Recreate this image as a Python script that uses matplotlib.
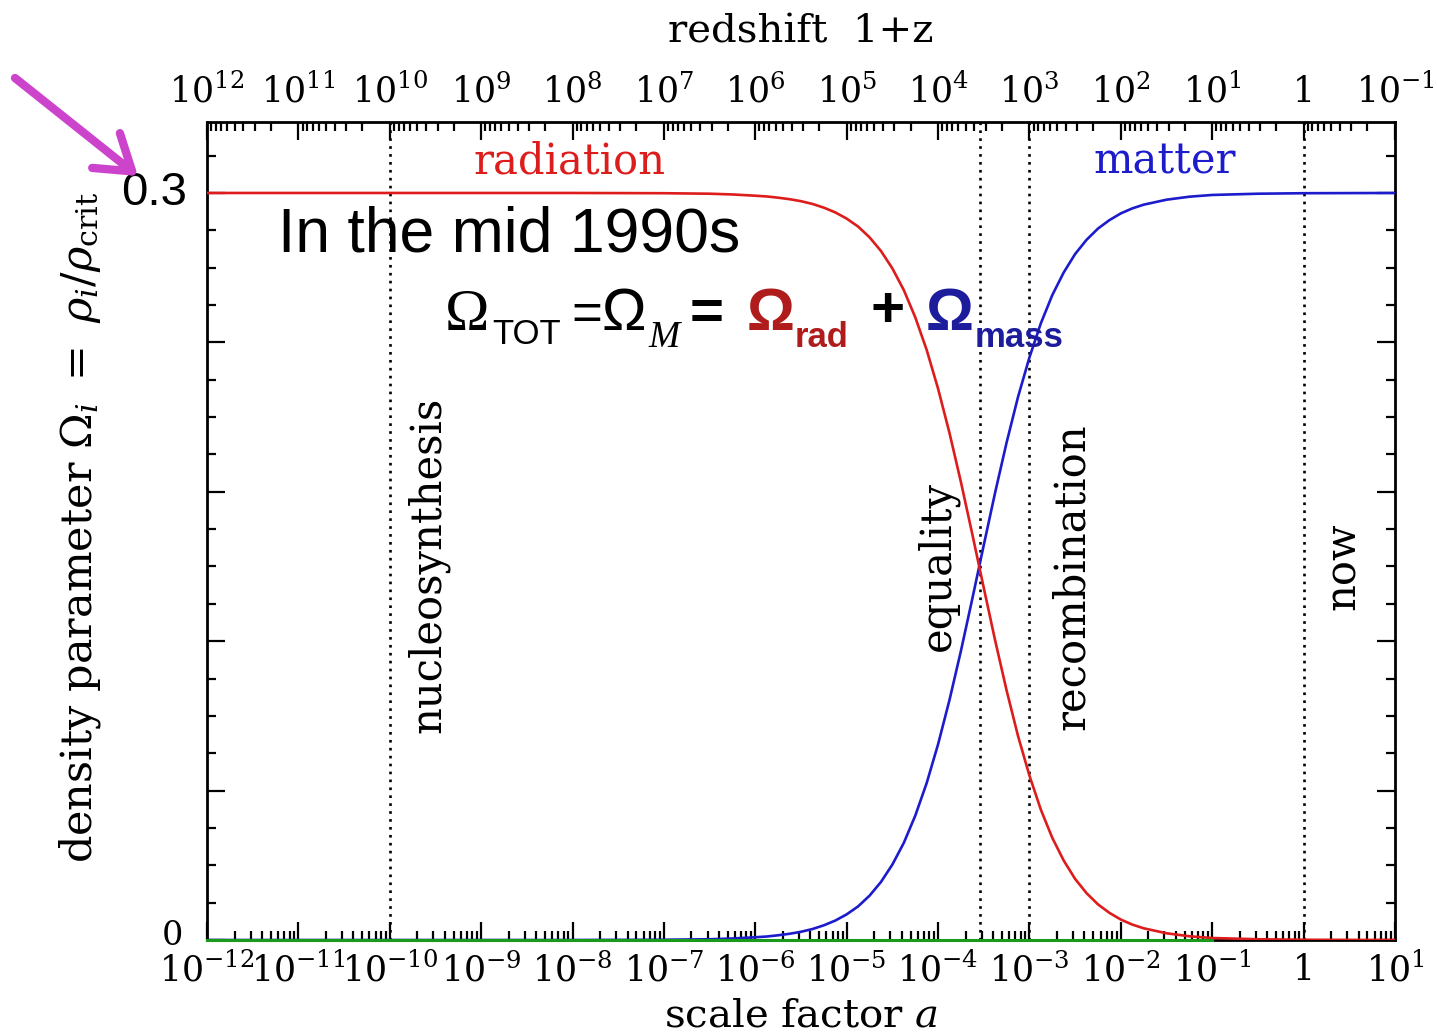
import numpy as np
import matplotlib
matplotlib.use('Agg')
import matplotlib.pyplot as plt
from matplotlib.ticker import FixedLocator, LogLocator, NullFormatter

# values (log10 of scale factor a)
log_a = [-12, -8, -7, -6.5, -6.25, -6, -5.875, -5.75, -5.625, -5.5, -5.375, -5.25,
         -5.125, -5, -4.875, -4.75, -4.625, -4.5, -4.375, -4.25, -4.125, -4,
         -3.875, -3.75, -3.625, -3.5, -3.375, -3.25, -3.125, -3, -2.875, -2.75,
         -2.625, -2.5, -2.375, -2.25, -2.125, -2, -1.875, -1.75, -1.5, -1.25,
         -1, -0.5, 0, 1]
omega_rad = [0.300, 0.300, 0.2999, 0.2997, 0.2994, 0.2989, 0.2986, 0.2981, 0.2975,
             0.2967, 0.2956, 0.2941, 0.2922, 0.2897, 0.2865, 0.2822, 0.2767, 0.2697,
             0.2610, 0.2501, 0.2370, 0.2214, 0.2036, 0.1839, 0.1629, 0.1414, 0.1202,
             0.1002, 0.0819, 0.0660, 0.0523, 0.0410, 0.0319, 0.0245, 0.0188, 0.0143,
             0.0109, 0.0082, 0.0062, 0.0047, 0.0027, 0.0015, 0.0008, 0.0003, 0.0001,
             0.0]
omega_mass = [0.0, 0.0, 0.0001, 0.0003, 0.0006, 0.0011, 0.0014, 0.0019, 0.0025,
              0.0033, 0.0044, 0.0059, 0.0078, 0.0103, 0.0135, 0.0178, 0.0233, 0.0303,
              0.0390, 0.0499, 0.0630, 0.0786, 0.0964, 0.1161, 0.1371, 0.1586, 0.1798,
              0.1998, 0.2181, 0.2340, 0.2477, 0.2590, 0.2681, 0.2755, 0.2812, 0.2857,
              0.2891, 0.2918, 0.2938, 0.2953, 0.2973, 0.2985, 0.2992, 0.2997, 0.2999,
              0.300]
green_a = [1e-12, 0.1]
green_val = [0.0, 0.0]

# epochs marked with dotted lines
epoch_a = [1e-10, 2.86e-4, 1e-3, 1.0]
epoch_names = ['nucleosynthesis', 'equality', 'recombination', 'now']
epoch_label_loga = [-9.58, -4.0, -2.54, 0.43]
epoch_label_y = [0.1506, 0.150, 0.1458, 0.150]

bottom_ticks = [10.0 ** k for k in range(-12, 2)]
bottom_labels = [r'$10^{-12}$', r'$10^{-11}$', r'$10^{-10}$', r'$10^{-9}$', r'$10^{-8}$',
                 r'$10^{-7}$', r'$10^{-6}$', r'$10^{-5}$', r'$10^{-4}$', r'$10^{-3}$',
                 r'$10^{-2}$', r'$10^{-1}$', '1', r'$10^{1}$']
top_labels = [r'$10^{12}$', r'$10^{11}$', r'$10^{10}$', r'$10^{9}$', r'$10^{8}$',
              r'$10^{7}$', r'$10^{6}$', r'$10^{5}$', r'$10^{4}$', r'$10^{3}$',
              r'$10^{2}$', r'$10^{1}$', '1', r'$10^{-1}$']

plt.rcParams['font.family'] = 'DejaVu Serif'
plt.rcParams['mathtext.fontset'] = 'dejavuserif'

W, H = 1437, 1034
fig = plt.figure(figsize=(W / 100, H / 100), dpi=100)
ax = fig.add_axes([207 / W, (H - 940) / H, (1395 - 207) / W, (940 - 122) / H])

a = np.power(10.0, log_a)
red = '#dd1c1c'
blue = '#1c1ccc'
ax.plot(a, omega_mass, color=blue, lw=1.9, zorder=3)
ax.plot(a, omega_rad, color=red, lw=1.9, zorder=4)
ax.plot(green_a, green_val, color='#1a9a1a', lw=2.2, zorder=6, clip_on=False)

for xe in epoch_a:
    ax.axvline(xe, color='black', lw=1.9, ls=(0, (1, 2)), zorder=2)
for name, la, yy in zip(epoch_names, epoch_label_loga, epoch_label_y):
    ax.text(10 ** la, yy, name, rotation=90, ha='center', va='center', fontsize=30)

ax.text(10 ** -8.03, 0.3125, 'radiation', color=red, fontsize=30, ha='center', va='center')
ax.text(10 ** -1.52, 0.3125, 'matter', color=blue, fontsize=30, ha='center', va='center')

ax.set_xscale('log')
ax.set_xlim(1e-12, 10)
ax.set_ylim(0, 0.3285)
ax.xaxis.set_major_locator(FixedLocator(bottom_ticks))
ax.set_xticklabels(bottom_labels)
ax.xaxis.set_minor_locator(LogLocator(base=10, subs=np.arange(2, 10), numticks=200))
ax.xaxis.set_minor_formatter(NullFormatter())
ax.set_yticks(np.arange(0, 0.301, 0.06))
ax.set_yticks(np.arange(0, 0.32, 0.015), minor=True)
ax.set_yticklabels([])
ax.tick_params(which='both', direction='in', top=False, right=True, width=1.6)
ax.tick_params(which='major', length=13, labelsize=25, pad=9)
ax.tick_params(which='minor', length=6.5)
for s in ax.spines.values():
    s.set_linewidth(2.0)
ax.set_xlabel(r'scale factor $a$', fontsize=29, labelpad=6)

# redshift axis on top
top = ax.secondary_xaxis('top', functions=(lambda x: 1 / x, lambda z: 1 / z))
top.xaxis.set_major_locator(FixedLocator([1 / t for t in bottom_ticks]))
top.set_xticklabels(top_labels)
top.xaxis.set_minor_locator(LogLocator(base=10, subs=np.arange(2, 10), numticks=200))
top.xaxis.set_minor_formatter(NullFormatter())
top.tick_params(which='both', direction='in', width=1.6)
top.tick_params(which='major', length=13, labelsize=25, pad=9)
top.tick_params(which='minor', length=6.5)
top.set_xlabel('redshift  1+z', fontsize=29, labelpad=22)

# y tick labels
yt = ax.get_yaxis_transform()
ax.text(-0.02, 0.0015, '0', transform=yt, ha='right', va='center', fontsize=24)
ax.text(-0.017, 0.3, '0.3', transform=yt, ha='right', va='center', fontsize=34,
        family='Liberation Sans')
fig.text(80 / W, 1 - 527 / H, r'density parameter $\Omega_i\ =\ \rho_i/\rho_{\rm crit}$',
         rotation=90, ha='center', va='center', fontsize=31)


def fp(x, y):
    return x / W, 1 - y / H


fig.text(*fp(278, 252), 'In the mid 1990s', fontsize=45, family='Liberation Sans')
fig.text(*fp(445, 330), 'Ω', fontsize=43, family='Liberation Serif')
fig.text(*fp(492, 344), 'TOT', fontsize=25, family='Liberation Sans')
fig.text(*fp(571, 330), '=', fontsize=38, family='Liberation Sans')
fig.text(*fp(601, 330), 'Ω', fontsize=43, family='Liberation Sans')
fig.text(*fp(648, 347), 'M', fontsize=27, family='Liberation Serif', style='italic')
fig.text(*fp(690, 330), '=', fontsize=42, family='Liberation Sans', weight='bold')
fig.text(*fp(747, 330), 'Ω', fontsize=43, family='Liberation Sans', weight='bold',
         color='#b01c1c')
fig.text(*fp(795, 347), 'rad', fontsize=25, family='Liberation Sans', weight='bold',
         color='#b01c1c')
fig.text(*fp(870, 327), '+', fontsize=42, family='Liberation Sans', weight='bold')
fig.text(*fp(926, 330), 'Ω', fontsize=43, family='Liberation Sans', weight='bold',
         color='#1c1c9c')
fig.text(*fp(975, 347), 'mass', fontsize=25, family='Liberation Sans', weight='bold',
         color='#1c1c9c')

# pointer arrow
ax.annotate('', xy=(138, H - 176), xycoords='figure pixels',
            xytext=(15, H - 78), textcoords='figure pixels',
            arrowprops=dict(arrowstyle='->,head_length=0.6,head_width=0.4',
                            color='#cc44cc', lw=6, mutation_scale=40,
                            shrinkA=0, shrinkB=0, capstyle='round'),
            annotation_clip=False)

fig.savefig('out.png', dpi=100)
plt.close(fig)
